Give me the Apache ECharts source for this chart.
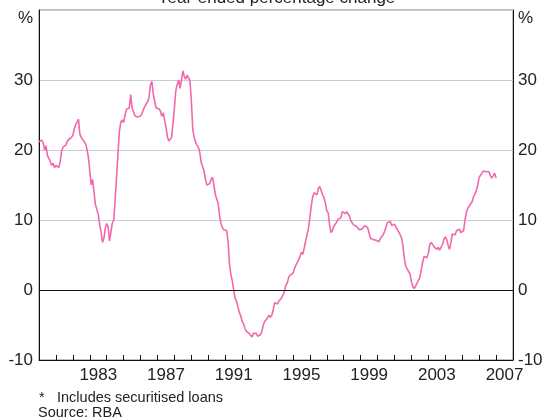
<!DOCTYPE html>
<html>
<head>
<meta charset="utf-8">
<script src="https://cdn.jsdelivr.net/npm/echarts@6/dist/echarts.min.js"></script>
<style>
    html, body { margin: 0; padding: 0; background: #fff; }
    #chart { width: 547px; height: 420px; }
</style>
</head>
<body>
<div id="chart"></div>
<script>
// monthly year-ended growth, %, first value is Jan 1980
var startYear = 1980;

var growth1980s = [
    21.2, 21.2, 21.4, 21.0, 20.0, 20.6, 19.2, 19.4, 18.4, 17.8, 18.1, 17.5,
    17.8, 18.0, 17.5, 18.3, 19.8, 20.4, 20.6, 20.7, 21.2, 21.5, 21.6, 21.8,
    22.1, 23.0, 23.6, 24.0, 24.4, 22.2, 21.8, 21.5, 21.2, 20.9, 20.1, 19.0,
    17.0, 15.0, 15.8, 14.0, 12.2, 12.0, 10.8, 9.4, 8.3, 6.8, 7.4, 8.8,
    9.5, 9.0, 7.0, 8.3, 9.6, 10.0, 13.0, 16.2, 19.5, 22.7, 24.0, 24.3,
    23.9, 25.0, 25.8, 25.7, 26.0, 27.9, 26.0, 25.8, 24.9, 24.8, 24.7, 24.8,
    24.9, 25.2, 25.8, 26.0, 26.6, 26.9, 27.5, 29.3, 29.8, 28.0, 27.8, 26.0,
    26.1, 25.9, 25.6, 24.8, 25.3, 25.4, 23.3, 21.9, 21.3, 21.3, 21.8, 23.8,
    26.0, 28.5, 29.4, 30.0, 28.8, 28.8, 31.3, 30.5, 30.1, 30.7, 30.9, 29.9,
    27.0, 23.0, 21.8, 21.1, 20.7, 20.4, 19.6, 18.2, 18.0, 17.0, 15.8, 15.0
];

var growth1990s = [
    14.9, 15.2, 15.8, 16.1, 15.0, 13.6, 13.4, 12.4, 10.6, 9.5, 8.9, 8.6,
    8.5, 8.5, 7.0, 3.8, 2.2, 1.3, 0.0, -1.2, -1.6, -1.8, -3.2, -3.7,
    -4.5, -4.8, -5.5, -5.9, -6.1, -6.2, -6.0, -6.7, -6.2, -6.0, -6.2, -6.6,
    -6.8, -6.4, -5.9, -5.0, -4.5, -4.4, -4.0, -3.6, -3.9, -3.6, -2.9, -1.8,
    -1.9, -2.0, -1.6, -1.7, -1.1, -0.7, -0.2, 0.7, 1.0, 1.8, 2.1, 2.2,
    2.4, 3.0, 3.5, 3.7, 4.3, 4.8, 5.4, 5.1, 6.0, 7.0, 7.1, 8.8,
    10.3, 12.0, 13.3, 13.9, 13.9, 13.6, 14.5, 14.8, 14.2, 13.6, 13.2, 12.4,
    11.3, 11.0, 9.3, 8.2, 8.5, 9.1, 9.2, 9.7, 10.1, 10.0, 10.3, 11.2,
    11.2, 10.9, 11.2, 11.1, 10.6, 9.9, 10.1, 9.3, 9.1, 9.1, 9.0, 8.6,
    8.4, 8.7, 8.8, 9.2, 9.4, 8.9, 8.1, 7.4, 7.4, 7.2, 7.2, 7.1
];

var growth2000s = [
    7.0, 6.9, 7.4, 7.3, 7.9, 8.4, 9.0, 9.6, 9.8, 9.8, 9.2, 9.0,
    9.4, 9.0, 8.8, 8.3, 7.9, 7.4, 6.3, 4.5, 3.4, 3.0, 2.9, 2.3,
    1.2, 0.5, 0.2, 0.6, 1.0, 1.1, 1.8, 2.9, 4.0, 4.8, 4.8, 4.6,
    5.3, 6.5, 6.8, 6.9, 6.2, 6.0, 5.8, 6.1, 5.7, 5.6, 6.5, 7.2,
    7.6, 7.2, 6.4, 5.8, 6.8, 8.0, 8.2, 7.9, 8.5, 8.7, 8.7, 8.2,
    8.0, 8.5, 10.0, 11.1, 11.7, 12.0, 12.0, 12.6, 13.3, 13.7, 14.2, 15.0,
    16.1, 16.4, 16.7, 17.0, 17.2, 16.9, 16.7, 16.9, 16.3, 16.0, 16.3, 16.7,
    16.0
];

var labelYears = [1983, 1987, 1991, 1995, 1999, 2003, 2007];
var yTicks = [-10, 0, 10, 20, 30];

var font = '"Liberation Sans", Arial, sans-serif';
var textColor = '#222';

function buildSeries()
{
    var values = growth1980s.concat(growth1990s, growth2000s);
    var points = [];

    for (var i = 0; i < values.length; i++) {
        points.push([startYear + i / 12, values[i]]);
    }

    return points;
}

function yAxisOf(position, margin)
{
    return {
        type: 'value',
        position: position,
        min: -10,
        max: 40,
        interval: 10,
        axisLine: { show: true, lineStyle: { color: '#111', width: 1 } },
        axisTick: { show: false },
        axisLabel: {
            margin: margin,
            fontFamily: font,
            fontSize: 17,
            color: textColor,
            formatter: function(v) { return yTicks.indexOf(v) >= 0 ? String(v) : ''; }
        },
        splitLine: { show: position == 'left', lineStyle: { color: '#c9cdd2', width: 1 } }
    };
}

function text(x, y, str, align, size)
{
    return {
        type: 'text',
        x: x,
        y: y,
        style: {
            text: str,
            fill: textColor,
            font: size + 'px ' + font,
            align: align,
            verticalAlign: 'middle'
        }
    };
}

var chart = echarts.init(document.getElementById('chart'), null, { renderer: 'canvas' });

chart.setOption({
    animation: false,
    grid: {
        left: 39,
        top: 10,
        width: 474,
        height: 350,
        show: true,
        borderColor: '#808080',
        borderWidth: 1
    },
    xAxis: {
        type: 'value',
        min: 1980,
        max: 2008,
        interval: 1,
        axisLine: { show: true, onZero: false, lineStyle: { color: '#111', width: 1 } },
        axisTick: { show: true, inside: true, length: 5, lineStyle: { color: '#111' } },
        splitLine: { show: false },
        axisLabel: {
            margin: 7,
            fontFamily: font,
            fontSize: 17,
            color: textColor,
            padding: [0, 0, 0, 17],
            formatter: function(v) { return labelYears.indexOf(v) >= 0 ? String(v) : ''; }
        }
    },
    yAxis: [yAxisOf('left', 6), yAxisOf('right', 5)],
    series: [{
        type: 'line',
        data: buildSeries(),
        showSymbol: false,
        symbol: 'none',
        lineStyle: { color: '#f268aa', width: 1.6 },
        markLine: {
            silent: true,
            symbol: 'none',
            label: { show: false },
            lineStyle: { color: '#111', width: 1, type: 'solid' },
            data: [{ yAxis: 0 }]
        }
    }],
    graphic: [
        text(276.5, -2, 'Year-ended percentage change', 'center', 17),
        text(33, 18.5, '%', 'right', 17),
        text(518, 18.5, '%', 'left', 17),
        text(39, 398, '*', 'left', 14.5),
        text(57, 398, 'Includes securitised loans', 'left', 14.5),
        text(38, 412.5, 'Source: RBA', 'left', 14.5)
    ]
});
</script>
</body>
</html>
